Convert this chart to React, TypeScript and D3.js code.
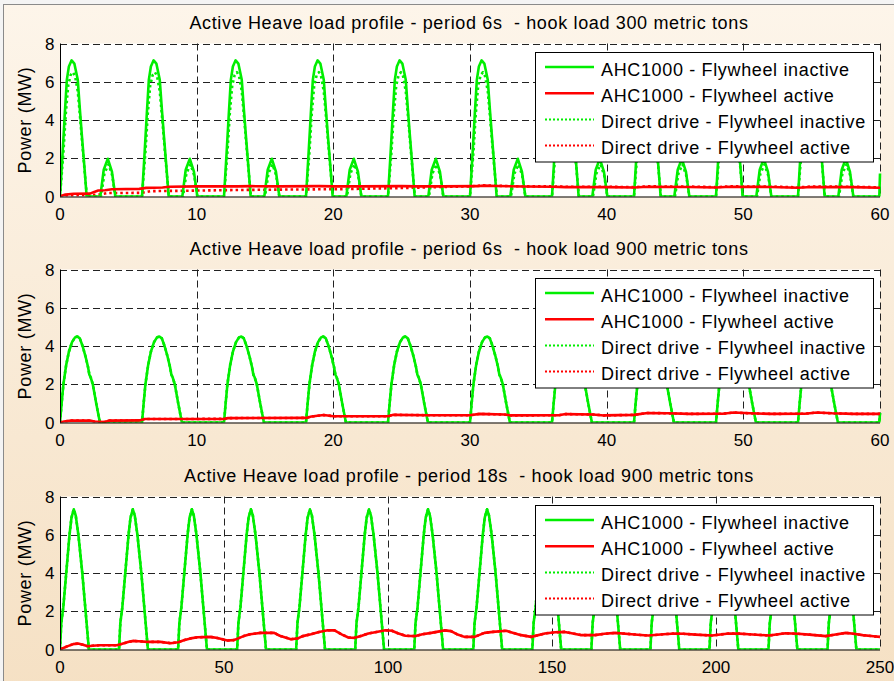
import React from 'react';
import * as d3 from 'd3';

type P = [number, number];

// ---------- Panel 1: period 6s, hook load 300 t ----------
const p1AhcInactive: P[] = [
  [0,0],[0.2,2.4],[0.35,4.3],[0.5,6.1],[0.65,6.8],[0.85,7.12],[1.05,6.95],[1.3,6.1],[1.45,4.6],[1.6,3.2],[1.78,1.6],[1.95,0],[2.95,0],[3.2,1.4],[3.5,1.97],[3.8,1.3],[4.05,0],
  [6,0],[6.2,2.4],[6.35,4.3],[6.5,6.1],[6.65,6.8],[6.85,7.12],[7.05,6.95],[7.3,6.1],[7.45,4.6],[7.6,3.2],[7.78,1.6],[7.95,0],[8.95,0],[9.2,1.4],[9.5,1.97],[9.8,1.3],[10.05,0],
  [12,0],[12.2,2.4],[12.35,4.3],[12.5,6.1],[12.65,6.8],[12.85,7.12],[13.05,6.95],[13.3,6.1],[13.45,4.6],[13.6,3.2],[13.78,1.6],[13.95,0],[14.95,0],[15.2,1.4],[15.5,1.97],[15.8,1.3],[16.05,0],
  [18,0],[18.2,2.4],[18.35,4.3],[18.5,6.1],[18.65,6.8],[18.85,7.12],[19.05,6.95],[19.3,6.1],[19.45,4.6],[19.6,3.2],[19.78,1.6],[19.95,0],[20.95,0],[21.2,1.4],[21.5,1.97],[21.8,1.3],[22.05,0],
  [24,0],[24.2,2.4],[24.35,4.3],[24.5,6.1],[24.65,6.8],[24.85,7.12],[25.05,6.95],[25.3,6.1],[25.45,4.6],[25.6,3.2],[25.78,1.6],[25.95,0],[26.95,0],[27.2,1.4],[27.5,1.97],[27.8,1.3],[28.05,0],
  [30,0],[30.2,2.4],[30.35,4.3],[30.5,6.1],[30.65,6.8],[30.85,7.12],[31.05,6.95],[31.3,6.1],[31.45,4.6],[31.6,3.2],[31.78,1.6],[31.95,0],[32.95,0],[33.2,1.4],[33.5,1.97],[33.8,1.3],[34.05,0],
  [36,0],[36.2,2.4],[36.35,4.3],[36.5,6.1],[36.65,6.8],[36.85,7.12],[37.05,6.95],[37.3,6.1],[37.45,4.6],[37.6,3.2],[37.78,1.6],[37.95,0],[38.95,0],[39.2,1.4],[39.5,1.97],[39.8,1.3],[40.05,0],
  [42,0],[42.2,2.4],[42.35,4.3],[42.5,6.1],[42.65,6.8],[42.85,7.12],[43.05,6.95],[43.3,6.1],[43.45,4.6],[43.6,3.2],[43.78,1.6],[43.95,0],[44.95,0],[45.2,1.4],[45.5,1.97],[45.8,1.3],[46.05,0],
  [48,0],[48.2,2.4],[48.35,4.3],[48.5,6.1],[48.65,6.8],[48.85,7.12],[49.05,6.95],[49.3,6.1],[49.45,4.6],[49.6,3.2],[49.78,1.6],[49.95,0],[50.95,0],[51.2,1.4],[51.5,1.97],[51.8,1.3],[52.05,0],
  [54,0],[54.2,2.4],[54.35,4.3],[54.5,6.1],[54.65,6.8],[54.85,7.12],[55.05,6.95],[55.3,6.1],[55.45,4.6],[55.6,3.2],[55.78,1.6],[55.95,0],[56.95,0],[57.2,1.4],[57.5,1.97],[57.8,1.3],[58.05,0],
  [59.95,0],[60,1.2],
];
const p1DdInactive: P[] = [
  [0,0],[0.25,2.3],[0.42,4.3],[0.6,5.8],[0.78,6.35],[0.95,6.5],[1.1,6.3],[1.3,5.5],[1.45,4.3],[1.6,3],[1.78,1.5],[1.97,0],[3,0],[3.25,1.2],[3.55,1.68],[3.82,1.1],[4.05,0],
  [6,0],[6.25,2.3],[6.42,4.3],[6.6,5.8],[6.78,6.35],[6.95,6.5],[7.1,6.3],[7.3,5.5],[7.45,4.3],[7.6,3],[7.78,1.5],[7.97,0],[9,0],[9.25,1.2],[9.55,1.68],[9.82,1.1],[10.05,0],
  [12,0],[12.25,2.3],[12.42,4.3],[12.6,5.8],[12.78,6.35],[12.95,6.5],[13.1,6.3],[13.3,5.5],[13.45,4.3],[13.6,3],[13.78,1.5],[13.97,0],[15,0],[15.25,1.2],[15.55,1.68],[15.82,1.1],[16.05,0],
  [18,0],[18.25,2.3],[18.42,4.3],[18.6,5.8],[18.78,6.35],[18.95,6.5],[19.1,6.3],[19.3,5.5],[19.45,4.3],[19.6,3],[19.78,1.5],[19.97,0],[21,0],[21.25,1.2],[21.55,1.68],[21.82,1.1],[22.05,0],
  [24,0],[24.25,2.3],[24.42,4.3],[24.6,5.8],[24.78,6.35],[24.95,6.5],[25.1,6.3],[25.3,5.5],[25.45,4.3],[25.6,3],[25.78,1.5],[25.97,0],[27,0],[27.25,1.2],[27.55,1.68],[27.82,1.1],[28.05,0],
  [30,0],[30.25,2.3],[30.42,4.3],[30.6,5.8],[30.78,6.35],[30.95,6.5],[31.1,6.3],[31.3,5.5],[31.45,4.3],[31.6,3],[31.78,1.5],[31.97,0],[33,0],[33.25,1.2],[33.55,1.68],[33.82,1.1],[34.05,0],
  [36,0],[36.25,2.3],[36.42,4.3],[36.6,5.8],[36.78,6.35],[36.95,6.5],[37.1,6.3],[37.3,5.5],[37.45,4.3],[37.6,3],[37.78,1.5],[37.97,0],[39,0],[39.25,1.2],[39.55,1.68],[39.82,1.1],[40.05,0],
  [42,0],[42.25,2.3],[42.42,4.3],[42.6,5.8],[42.78,6.35],[42.95,6.5],[43.1,6.3],[43.3,5.5],[43.45,4.3],[43.6,3],[43.78,1.5],[43.97,0],[45,0],[45.25,1.2],[45.55,1.68],[45.82,1.1],[46.05,0],
  [48,0],[48.25,2.3],[48.42,4.3],[48.6,5.8],[48.78,6.35],[48.95,6.5],[49.1,6.3],[49.3,5.5],[49.45,4.3],[49.6,3],[49.78,1.5],[49.97,0],[51,0],[51.25,1.2],[51.55,1.68],[51.82,1.1],[52.05,0],
  [54,0],[54.25,2.3],[54.42,4.3],[54.6,5.8],[54.78,6.35],[54.95,6.5],[55.1,6.3],[55.3,5.5],[55.45,4.3],[55.6,3],[55.78,1.5],[55.97,0],[57,0],[57.25,1.2],[57.55,1.68],[57.82,1.1],[58.05,0],
  [60,0],
];
const p1AhcActive: P[] = [
  [0,0],[0.4,0.1],[1,0.14],[2.2,0.15],[2.5,0.24],[2.8,0.31],[3.3,0.33],[3.8,0.38],[5.8,0.4],[6.3,0.45],[7.5,0.47],[8,0.51],[10,0.53],[13,0.53],[14,0.54],[16,0.53],[19,0.54],[20,0.53],[22,0.53],[25,0.54],[26,0.53],[28,0.53],[30.5,0.54],[31,0.57],[32,0.55],[34,0.52],[36,0.51],[37,0.49],[38,0.49],[40,0.49],[42,0.47],[43,0.51],[46,0.5],[48,0.47],[49,0.51],[52,0.5],[54,0.46],[55,0.5],[58,0.49],[60,0.46],
];
const p1DdActive: P[] = [
  [0,0],[0.5,0.05],[2,0.07],[2.9,0.1],[3.5,0.18],[6,0.19],[6.6,0.28],[9,0.3],[10,0.31],[13,0.34],[16,0.36],[18,0.37],[21,0.39],[24,0.43],[26,0.46],[28,0.5],[30,0.53],[31,0.58],[32,0.56],[34,0.53],[36,0.53],[37,0.51],[38,0.51],[40,0.51],[42,0.49],[43,0.53],[46,0.52],[48,0.49],[49,0.53],[52,0.52],[54,0.48],[55,0.52],[58,0.51],[60,0.48],
];

// ---------- Panel 2: period 6s, hook load 900 t ----------
const p2AhcInactive: P[] = [
  [0,0],[0.12,1],[0.25,2],[0.45,3],[0.65,3.7],[0.88,4.2],[1.1,4.45],[1.27,4.5],[1.45,4.4],[1.65,4],[1.85,3.5],[2.05,2.9],[2.15,2.5],[2.25,2.35],[2.4,2],[2.65,1],[2.92,0],
  [6,0],[6.12,1],[6.25,2],[6.45,3],[6.65,3.7],[6.88,4.2],[7.1,4.45],[7.27,4.5],[7.45,4.4],[7.65,4],[7.85,3.5],[8.05,2.9],[8.15,2.5],[8.25,2.35],[8.4,2],[8.65,1],[8.92,0],
  [12,0],[12.12,1],[12.25,2],[12.45,3],[12.65,3.7],[12.88,4.2],[13.1,4.45],[13.27,4.5],[13.45,4.4],[13.65,4],[13.85,3.5],[14.05,2.9],[14.15,2.5],[14.25,2.35],[14.4,2],[14.65,1],[14.92,0],
  [18,0],[18.12,1],[18.25,2],[18.45,3],[18.65,3.7],[18.88,4.2],[19.1,4.45],[19.27,4.5],[19.45,4.4],[19.65,4],[19.85,3.5],[20.05,2.9],[20.15,2.5],[20.25,2.35],[20.4,2],[20.65,1],[20.92,0],
  [24,0],[24.12,1],[24.25,2],[24.45,3],[24.65,3.7],[24.88,4.2],[25.1,4.45],[25.27,4.5],[25.45,4.4],[25.65,4],[25.85,3.5],[26.05,2.9],[26.15,2.5],[26.25,2.35],[26.4,2],[26.65,1],[26.92,0],
  [30,0],[30.12,1],[30.25,2],[30.45,3],[30.65,3.7],[30.88,4.2],[31.1,4.45],[31.27,4.5],[31.45,4.4],[31.65,4],[31.85,3.5],[32.05,2.9],[32.15,2.5],[32.25,2.35],[32.4,2],[32.65,1],[32.92,0],
  [36,0],[36.12,1],[36.25,2],[36.45,3],[36.65,3.7],[36.88,4.2],[37.1,4.45],[37.27,4.5],[37.45,4.4],[37.65,4],[37.85,3.5],[38.05,2.9],[38.15,2.5],[38.25,2.35],[38.4,2],[38.65,1],[38.92,0],
  [42,0],[42.12,1],[42.25,2],[42.45,3],[42.65,3.7],[42.88,4.2],[43.1,4.45],[43.27,4.5],[43.45,4.4],[43.65,4],[43.85,3.5],[44.05,2.9],[44.15,2.5],[44.25,2.35],[44.4,2],[44.65,1],[44.92,0],
  [48,0],[48.12,1],[48.25,2],[48.45,3],[48.65,3.7],[48.88,4.2],[49.1,4.45],[49.27,4.5],[49.45,4.4],[49.65,4],[49.85,3.5],[50.05,2.9],[50.15,2.5],[50.25,2.35],[50.4,2],[50.65,1],[50.92,0],
  [54,0],[54.12,1],[54.25,2],[54.45,3],[54.65,3.7],[54.88,4.2],[55.1,4.45],[55.27,4.5],[55.45,4.4],[55.65,4],[55.85,3.5],[56.05,2.9],[56.15,2.5],[56.25,2.35],[56.4,2],[56.65,1],[56.92,0],
  [59.95,0],[60,0.5],
];
const p2DdInactive: P[] = p2AhcInactive; // the two curves coincide in the picture
const p2AhcActive: P[] = [
  [0,0],[0.3,0.05],[0.8,0.1],[2.2,0.1],[2.5,0.05],[3.3,0.03],[3.6,0.1],[5.8,0.11],[6.2,0.18],[12,0.19],[12.3,0.23],[18,0.24],[18.4,0.31],[19.3,0.39],[20,0.33],[24,0.33],[24.4,0.4],[27,0.38],[30,0.38],[30.7,0.45],[32.5,0.42],[33,0.37],[36.5,0.38],[37,0.44],[39,0.42],[39.8,0.37],[42,0.4],[43,0.5],[44.5,0.48],[46,0.45],[48.5,0.46],[49.3,0.52],[50.5,0.48],[52,0.45],[54.5,0.46],[55.4,0.52],[56.5,0.48],[58,0.45],[60,0.45],
];
const p2DdActive: P[] = p2AhcActive;

// ---------- Panel 3: period 18s, hook load 900 t ----------
const p3AhcInactive: P[] = [
  [0,0],[0.4,1.4],[1,2.2],[1.9,4],[2.9,6],[3.5,6.9],[4.2,7.33],[4.8,7],[5.6,6],[6.8,4],[7.8,2],[8.8,0],
  [18,0],[18.4,1.4],[19,2.2],[19.9,4],[20.9,6],[21.5,6.9],[22.2,7.33],[22.8,7],[23.6,6],[24.8,4],[25.8,2],[26.8,0],
  [36,0],[36.4,1.4],[37,2.2],[37.9,4],[38.9,6],[39.5,6.9],[40.2,7.33],[40.8,7],[41.6,6],[42.8,4],[43.8,2],[44.8,0],
  [54,0],[54.4,1.4],[55,2.2],[55.9,4],[56.9,6],[57.5,6.9],[58.2,7.33],[58.8,7],[59.6,6],[60.8,4],[61.8,2],[62.8,0],
  [72,0],[72.4,1.4],[73,2.2],[73.9,4],[74.9,6],[75.5,6.9],[76.2,7.33],[76.8,7],[77.6,6],[78.8,4],[79.8,2],[80.8,0],
  [90,0],[90.4,1.4],[91,2.2],[91.9,4],[92.9,6],[93.5,6.9],[94.2,7.33],[94.8,7],[95.6,6],[96.8,4],[97.8,2],[98.8,0],
  [108,0],[108.4,1.4],[109,2.2],[109.9,4],[110.9,6],[111.5,6.9],[112.2,7.33],[112.8,7],[113.6,6],[114.8,4],[115.8,2],[116.8,0],
  [126,0],[126.4,1.4],[127,2.2],[127.9,4],[128.9,6],[129.5,6.9],[130.2,7.33],[130.8,7],[131.6,6],[132.8,4],[133.8,2],[134.8,0],
  [144,0],[144.4,1.4],[145,2.2],[145.9,4],[146.9,6],[147.5,6.9],[148.2,7.33],[148.8,7],[149.6,6],[150.8,4],[151.8,2],[152.8,0],
  [162,0],[162.4,1.4],[163,2.2],[163.9,4],[164.9,6],[165.5,6.9],[166.2,7.33],[166.8,7],[167.6,6],[168.8,4],[169.8,2],[170.8,0],
  [180,0],[180.4,1.4],[181,2.2],[181.9,4],[182.9,6],[183.5,6.9],[184.2,7.33],[184.8,7],[185.6,6],[186.8,4],[187.8,2],[188.8,0],
  [198,0],[198.4,1.4],[199,2.2],[199.9,4],[200.9,6],[201.5,6.9],[202.2,7.33],[202.8,7],[203.6,6],[204.8,4],[205.8,2],[206.8,0],
  [216,0],[216.4,1.4],[217,2.2],[217.9,4],[218.9,6],[219.5,6.9],[220.2,7.33],[220.8,7],[221.6,6],[222.8,4],[223.8,2],[224.8,0],
  [234,0],[234.4,1.4],[235,2.2],[235.9,4],[236.9,6],[237.5,6.9],[238.2,7.33],[238.8,7],[239.6,6],[240.8,4],[241.8,2],[242.8,0],
  [250,0],
];
const p3DdInactive: P[] = p3AhcInactive;
const p3AhcActive: P[] = [
  [0,0],[2,0.15],[4,0.28],[5.5,0.31],[7,0.25],[8.5,0.17],[10,0.2],[12,0.22],[17.3,0.22],[19,0.3],[21,0.4],[22.4,0.45],[24,0.43],[26.5,0.4],[30.6,0.4],[33.7,0.33],[36,0.38],[38,0.5],[39.8,0.58],[42,0.64],[45.9,0.66],[48,0.6],[51,0.47],[53,0.49],[56,0.7],[58,0.8],[61.2,0.87],[65.3,0.87],[67,0.72],[70.4,0.54],[72.5,0.58],[74,0.7],[76.5,0.8],[79,0.92],[81.6,1.01],[83.7,1],[86,0.78],[87.9,0.63],[89.9,0.61],[92,0.72],[94,0.84],[96.5,0.92],[99.2,1.01],[101.2,0.98],[103,0.85],[105.3,0.72],[108.4,0.7],[110.5,0.8],[113.2,0.87],[117.3,1],[119.2,0.96],[121,0.8],[123.3,0.66],[126.4,0.66],[129.4,0.87],[132,0.92],[136,0.98],[138,0.88],[140.6,0.75],[143.7,0.66],[147.8,0.84],[151,0.9],[153.9,0.92],[156,0.85],[159,0.75],[163,0.75],[166,0.82],[169.2,0.87],[174.3,0.8],[177,0.76],[179.4,0.73],[184,0.8],[187.6,0.84],[190,0.82],[193.7,0.78],[198.8,0.73],[203.9,0.84],[207,0.83],[210,0.8],[216.2,0.73],[221.2,0.85],[225,0.82],[228.4,0.78],[233.5,0.7],[236,0.77],[239.6,0.87],[242,0.82],[244.7,0.75],[248,0.69],[250,0.66],
];
const p3DdActive: P[] = p3AhcActive;

// ---------- labels ----------
const legendLabels = [
  'AHC1000 - Flywheel inactive',
  'AHC1000 - Flywheel active',
  'Direct drive - Flywheel inactive',
  'Direct drive - Flywheel active',
];
const titles = [
  'Active Heave load profile - period 6s  - hook load 300 metric tons',
  'Active Heave load profile - period 6s  - hook load 900 metric tons',
  'Active Heave load profile - period 18s  - hook load 900 metric tons',
];
const yTicks = [0, 2, 4, 6, 8];
const xTicks60 = [0, 10, 20, 30, 40, 50, 60];
const xTicks250 = [0, 50, 100, 150, 200, 250];
const yLabel = 'Power (MW)';

// ---------- style ----------
const GREEN = '#00ee00';
const RED = '#ff0000';
const FONT = '"Liberation Sans", Arial, Helvetica, sans-serif';
const X0 = 60, X1 = 880, PH = 153;
const seriesStyle = [
  { color: GREEN, dotted: false },
  { color: RED, dotted: false },
  { color: GREEN, dotted: true },
  { color: RED, dotted: true },
];

type PanelProps = {
  idx: number; top: number; xMax: number; xTicks: number[]; title: string; series: P[][];
};

function Panel({ idx, top, xMax, xTicks, title, series }: PanelProps) {
  const bottom = top + PH;
  const x = d3.scaleLinear().domain([0, xMax]).range([X0, X1]);
  const y = d3.scaleLinear().domain([0, 8]).range([bottom, top]);
  const line = d3.line<P>().x(d => x(d[0])).y(d => y(d[1]));
  const clipId = `clip${idx}`;
  const lx0 = 535, lx1 = 873, ly0 = top + 8.7, lh = 109.5;
  const order = [2, 3, 0, 1];
  return (
    <g>
      <defs>
        <clipPath id={clipId}>
          <rect x={X0} y={top - 2} width={X1 - X0 + 2} height={PH + 2} />
        </clipPath>
      </defs>
      <rect x={X0} y={top} width={X1 - X0} height={PH} fill="#fff" />
      {yTicks.filter(t => t > 0).map(t => (
        <line key={'gy' + t} x1={X0} x2={X1} y1={Math.round(y(t)) + 0.5} y2={Math.round(y(t)) + 0.5}
          stroke="#222" strokeWidth={1} strokeDasharray="7,4" />
      ))}
      {xTicks.filter(t => t > 0).map(t => (
        <line key={'gx' + t} x1={Math.round(x(t)) + 0.5} x2={Math.round(x(t)) + 0.5} y1={top} y2={bottom}
          stroke="#222" strokeWidth={1} strokeDasharray="7,4" />
      ))}
      <g clipPath={`url(#${clipId})`}>
        {order.map(i => (
          <path key={i} d={line(series[i]) || ''} fill="none" stroke={seriesStyle[i].color}
            strokeWidth={2.6} strokeLinejoin="round"
            strokeDasharray={seriesStyle[i].dotted ? '2.5,3' : undefined} />
        ))}
      </g>
      <line x1={X0 + 0.5} x2={X0 + 0.5} y1={top} y2={bottom} stroke="#000" strokeWidth={1} />
      <line x1={X0} x2={X1} y1={bottom + 0.5} y2={bottom + 0.5} stroke="#000" strokeWidth={1} />
      {yTicks.map(t => (
        <text key={'ty' + t} x={54.5} y={y(t)} dy="0.36em" textAnchor="end" fontSize={17} fontFamily={FONT}>{t}</text>
      ))}
      {xTicks.map(t => (
        <text key={'tx' + t} x={x(t)} y={bottom + 23.4} textAnchor="middle" fontSize={17} fontFamily={FONT}>{t}</text>
      ))}
      <text x={(X0 + X1) / 2 - 1} y={top - 15} textAnchor="middle" fontSize={18} letterSpacing={0.65}
        fontFamily={FONT} style={{ whiteSpace: 'pre' }}>{title}</text>
      <text transform={`translate(31,${(top + bottom) / 2}) rotate(-90)`} textAnchor="middle" fontSize={18} letterSpacing={0.7} fontFamily={FONT}>{yLabel}</text>
      <rect x={lx0 + 0.5} y={Math.round(ly0) + 0.5} width={lx1 - lx0} height={lh} fill="#fff" stroke="#000" strokeWidth={1} />
      {legendLabels.map((lab, i) => {
        const ly = Math.round(ly0) + 15 + i * 26.2;
        return (
          <g key={lab}>
            <line x1={545} x2={594} y1={ly} y2={ly} stroke={seriesStyle[i].color}
              strokeWidth={seriesStyle[i].dotted ? 2 : 2.6}
              strokeDasharray={seriesStyle[i].dotted ? '2,2' : undefined} />
            <text x={601} y={ly + 8.5} fontSize={18} letterSpacing={0.65} fontFamily={FONT}>{lab}</text>
          </g>
        );
      })}
    </g>
  );
}

export default function App() {
  const panels = [
    { top: 43.5, xMax: 60, xTicks: xTicks60, series: [p1AhcInactive, p1AhcActive, p1DdInactive, p1DdActive] },
    { top: 269.5, xMax: 60, xTicks: xTicks60, series: [p2AhcInactive, p2AhcActive, p2DdInactive, p2DdActive] },
    { top: 496.5, xMax: 250, xTicks: xTicks250, series: [p3AhcInactive, p3AhcActive, p3DdInactive, p3DdActive] },
  ];
  return (
    <svg width={894} height={681} style={{ position: 'absolute', left: 0, top: 0, display: 'block' }}>
      <defs>
        <linearGradient id="bg" x1="0" y1="0" x2="0" y2="1">
          <stop offset="0" stopColor="#fdf5ea" />
          <stop offset="1" stopColor="#f5e0c3" />
        </linearGradient>
      </defs>
      <rect x={0} y={0} width={894} height={681} fill="#f4f4f4" />
      <rect x={3.5} y={4.5} width={900} height={700} fill="url(#bg)" stroke="#8a8a8a" strokeWidth={1} />
      {panels.map((p, i) => (
        <Panel key={i} idx={i} top={p.top} xMax={p.xMax} xTicks={p.xTicks} title={titles[i]} series={p.series} />
      ))}
    </svg>
  );
}
